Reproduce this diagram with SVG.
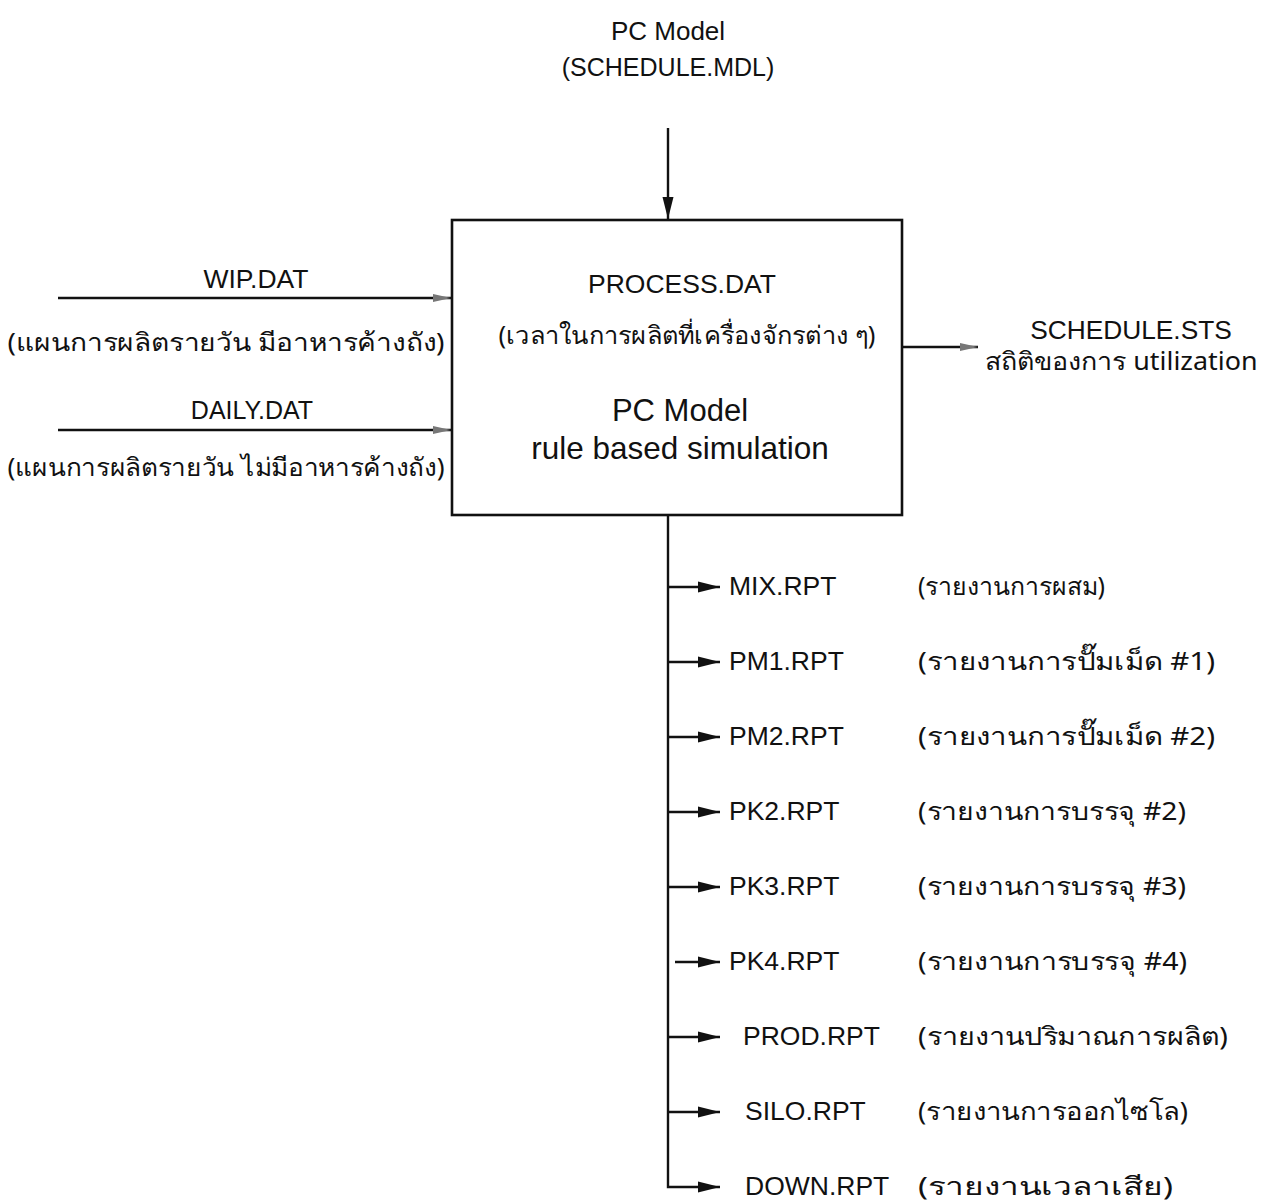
<svg xmlns="http://www.w3.org/2000/svg" width="1263" height="1202" viewBox="0 0 1263 1202">
<style>
.t{font-family:"Liberation Sans",Arial,"Noto Sans",sans-serif;fill:#111;}
.th{font-family:"Noto Sans","DejaVu Sans","Liberation Sans",sans-serif;fill:#111;font-size:25px;}
.r{font-size:26.5px;}
.ln{stroke:#111;stroke-width:2.4;fill:none;}
</style>
<defs>
<marker id="ahb" viewBox="0 0 22 12" refX="22" refY="6" markerWidth="22" markerHeight="12" markerUnits="userSpaceOnUse" orient="auto">
<path d="M0,0.5 L22,6 L0,11.5 Z" fill="#111"/>
</marker>
<marker id="ahg" viewBox="0 0 18 10" refX="18" refY="5" markerWidth="18" markerHeight="10" markerUnits="userSpaceOnUse" orient="auto">
<path d="M0,1 L18,5 L0,9 Z" fill="#777"/>
</marker>
</defs>

<g id="connectors">
<line class="ln" x1="668" y1="128" x2="668" y2="219" marker-end="url(#ahb)"/>
<line class="ln" x1="58" y1="298" x2="451" y2="298" marker-end="url(#ahg)"/>
<line class="ln" x1="58" y1="430" x2="451" y2="430" marker-end="url(#ahg)"/>
<line class="ln" x1="903" y1="347" x2="978" y2="347" marker-end="url(#ahg)"/>
<path class="ln" d="M668,516 L668,1187 L720,1187" marker-end="url(#ahb)"/>
<line class="ln" x1="668" y1="587" x2="720" y2="587" marker-end="url(#ahb)"/>
<line class="ln" x1="668" y1="662" x2="720" y2="662" marker-end="url(#ahb)"/>
<line class="ln" x1="668" y1="737" x2="720" y2="737" marker-end="url(#ahb)"/>
<line class="ln" x1="668" y1="812" x2="720" y2="812" marker-end="url(#ahb)"/>
<line class="ln" x1="668" y1="887" x2="720" y2="887" marker-end="url(#ahb)"/>
<line class="ln" x1="675" y1="962" x2="720" y2="962" marker-end="url(#ahb)"/>
<line class="ln" x1="668" y1="1037" x2="720" y2="1037" marker-end="url(#ahb)"/>
<line class="ln" x1="668" y1="1112" x2="720" y2="1112" marker-end="url(#ahb)"/>
</g>

<g id="pcmodel-input">
<text class="t" x="668" y="40" font-size="26" text-anchor="middle">PC Model</text>
<text class="t" x="668" y="76" font-size="25" text-anchor="middle">(SCHEDULE.MDL)</text>
</g>

<g id="main-box">
<rect x="452" y="220" width="450" height="295" fill="#fff" stroke="#111" stroke-width="2.6"/>
<text class="t" x="682" y="293" font-size="26.5" text-anchor="middle">PROCESS.DAT</text>
<text class="th" x="687" y="344" text-anchor="middle" textLength="377" lengthAdjust="spacingAndGlyphs">(เวลาในการผลิตที่เครื่องจักรต่าง ๆ)</text>
<text class="t" x="680" y="421" font-size="31" text-anchor="middle">PC Model</text>
<text class="t" x="680" y="459" font-size="31.5" text-anchor="middle">rule based simulation</text>
</g>

<g id="wip">
<text class="t" x="256" y="288" font-size="26.5" text-anchor="middle">WIP.DAT</text>
<text class="th" x="226" y="351" text-anchor="middle" textLength="437" lengthAdjust="spacingAndGlyphs">(แผนการผลิตรายวัน มีอาหารค้างถัง)</text>
</g>

<g id="daily">
<text class="t" x="252" y="419" font-size="25" text-anchor="middle">DAILY.DAT</text>
<text class="th" x="226" y="476" text-anchor="middle" textLength="437" lengthAdjust="spacingAndGlyphs">(แผนการผลิตรายวัน ไม่มีอาหารค้างถัง)</text>
</g>

<g id="schedule-sts">
<text class="t" x="1131" y="339" font-size="26.3" text-anchor="middle">SCHEDULE.STS</text>
<text class="th" x="1121" y="370" text-anchor="middle" textLength="273" lengthAdjust="spacingAndGlyphs">สถิติของการ utilization</text>
</g>

<g id="reports">
<g id="mix"><text class="t r" x="729" y="595">MIX.RPT</text><text class="th" x="918" y="595" textLength="187" lengthAdjust="spacingAndGlyphs">(รายงานการผสม)</text></g>
<g id="pm1"><text class="t r" x="729" y="670">PM1.RPT</text><text class="th" x="918" y="670" textLength="297" lengthAdjust="spacingAndGlyphs">(รายงานการปั๊มเม็ด  #1)</text></g>
<g id="pm2"><text class="t r" x="729" y="745">PM2.RPT</text><text class="th" x="918" y="745" textLength="297" lengthAdjust="spacingAndGlyphs">(รายงานการปั๊มเม็ด  #2)</text></g>
<g id="pk2"><text class="t r" x="729" y="820">PK2.RPT</text><text class="th" x="918" y="820" textLength="268" lengthAdjust="spacingAndGlyphs">(รายงานการบรรจุ  #2)</text></g>
<g id="pk3"><text class="t r" x="729" y="895">PK3.RPT</text><text class="th" x="918" y="895" textLength="268" lengthAdjust="spacingAndGlyphs">(รายงานการบรรจุ  #3)</text></g>
<g id="pk4"><text class="t r" x="729" y="970">PK4.RPT</text><text class="th" x="918" y="970" textLength="269" lengthAdjust="spacingAndGlyphs">(รายงานการบรรจุ  #4)</text></g>
<g id="prod"><text class="t r" x="743" y="1045">PROD.RPT</text><text class="th" x="918" y="1045" textLength="310" lengthAdjust="spacingAndGlyphs">(รายงานปริมาณการผลิต)</text></g>
<g id="silo"><text class="t r" x="745" y="1120">SILO.RPT</text><text class="th" x="918" y="1120" textLength="270" lengthAdjust="spacingAndGlyphs">(รายงานการออกไซโล)</text></g>
<g id="down"><text class="t r" x="745" y="1195">DOWN.RPT</text><text class="th" x="918" y="1195" textLength="255" lengthAdjust="spacingAndGlyphs">(รายงานเวลาเสีย)</text></g>
</g>
</svg>
